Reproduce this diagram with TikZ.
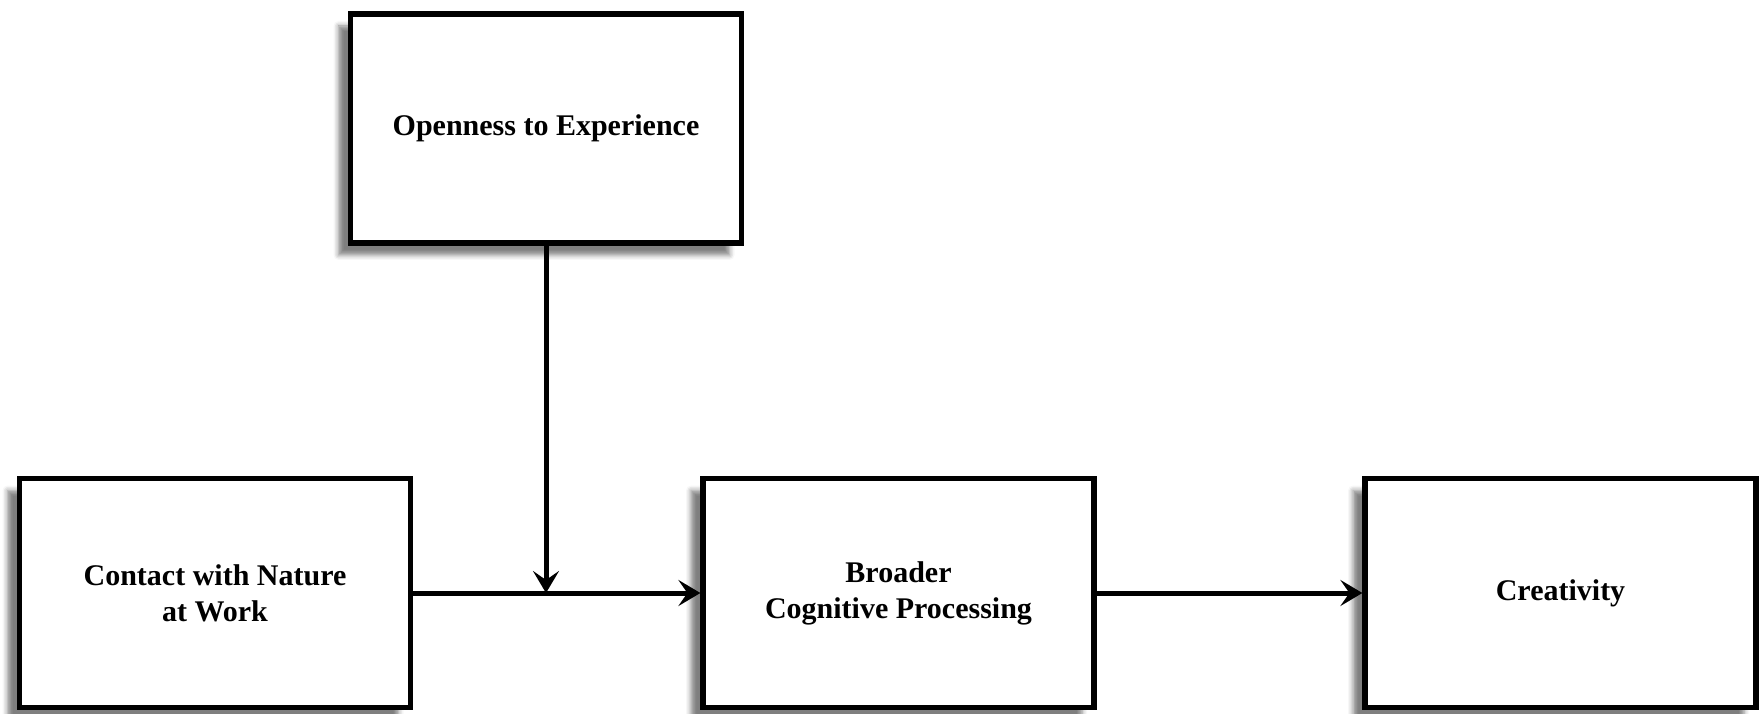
\documentclass[tikz,border=0pt]{standalone}
\usepackage{fontspec}
\setmainfont{Liberation Serif}
\usetikzlibrary{arrows.meta,shadows.blur}

\begin{document}
\begin{tikzpicture}[x=.5pt,y=.5pt,
  box/.style={draw,line width=2.6pt,fill=white,minimum width=195.5pt,minimum height=114.5pt,
    align=center,font=\fontsize{15}{18}\selectfont\bfseries,
    blur shadow={shadow xshift=-6pt,shadow yshift=-6pt,shadow blur radius=2.5pt,shadow opacity=50}},
  link/.style={line width=2.5pt,-{Stealth[length=11pt,width=13pt,inset=4.5pt]}}]
\useasboundingbox (0,0) rectangle (1760,713);

\node[box] (open) at (546,584.5) {Openness to Experience};
\node[box] (contact) at (215,120) {Contact with Nature\\at Work};
\node[box] (broader) at (898.5,120) {Broader\\Cognitive Processing};
\node[box] (creat) at (1560.5,120) {Creativity};

\coordinate (join) at (open.south |- contact.east);

\draw[link] (contact.east) -- (broader.west);
\draw[link] (open.south) -- (join);
\draw[link] (broader.east) -- (creat.west);

\end{tikzpicture}
\end{document}
